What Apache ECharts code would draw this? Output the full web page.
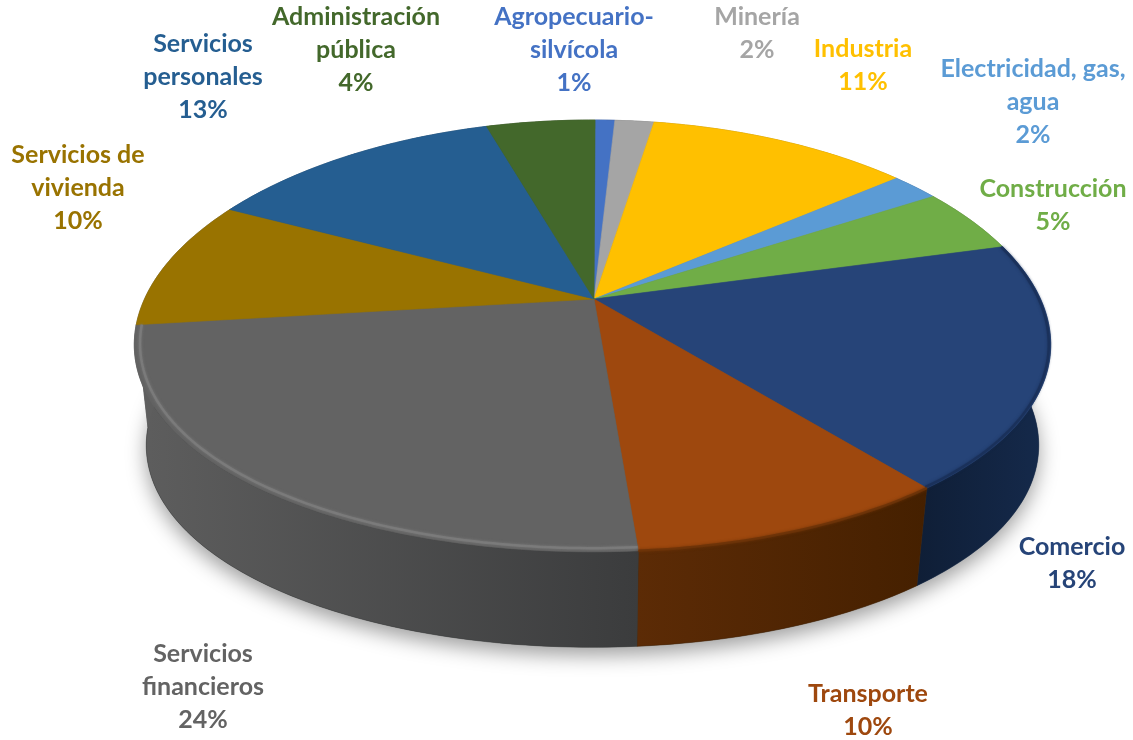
<!DOCTYPE html>
<html><head><meta charset="utf-8">
<style>html,body{margin:0;padding:0;background:#fff}#c{width:1133px;height:740px}</style>
<script src="https://cdn.jsdelivr.net/npm/echarts@6/dist/echarts.min.js"></script>
</head><body><div id="c"></div>
<script>
// Data
const categories = ['Agropecuario-\nsilvícola','Minería','Industria','Electricidad, gas,\nagua','Construcción','Comercio','Transporte','Servicios\nfinancieros','Servicios de\nvivienda','Servicios\npersonales','Administración\npública'];
const shares = [0.85,1.69,11.32,2.06,4.78,18.47,9.43,24.37,9.53,12.8,4.7];
const shareLabels = ['1%','2%','11%','2%','5%','18%','10%','24%','10%','13%','4%'];
// Styles
const topColors = ['#4472C4','#A5A5A5','#FFC000','#5B9BD5','#70AD47','#264478','#9E480E','#636363','#997300','#255E91','#43682B'];
const sideLeft  = ['#2a4577','#666666','#9c7600','#38608a','#44692b','#0f1e36','#5c2b06','#5e5e5e','#5e5e5e','#163a5a','#293f1a'];
const sideRight = ['#2a4577','#666666','#9c7600','#38608a','#44692b','#152a4c','#452000','#3b3c3d','#5e5e5e','#163a5a','#293f1a'];
const rimColors = [null,null,null,null,null,'#1a3059','#6b3208','#7c7c7c',null,null,null];
const rimRadius = [1,1,1,1,1,0.996,1,0.988,1,1,1];
const labelX = [574,757,863,1033,1053,1072,868,203,78,203,356];
const labelY = [50,33,65,102,205,563,710,687,188,77,50];
// Geometry of the tilted disc
const cx=592.5, apexX=594, apexY=299, a=448, b=209.6, perspX=0.21, perspY=0.171, depth=103, baseScale=0.975, startDeg=0.4;

const proj=(deg,r,dy)=>{const t=deg*Math.PI/180,X=Math.sin(t)*r,Y=Math.cos(t)*r;
  return [cx+a*X/(1+perspX*Y), apexY-b*Y/(1+perspY*Y)+(dy||0)];};
const arc=(d0,d1,r,dy)=>{const n=Math.max(2,Math.ceil(Math.abs(d1-d0))),o=[];
  for(let i=0;i<=n;i++)o.push(proj(d0+(d1-d0)*i/n,r,dy));return o;};
const cum=[0];shares.forEach(v=>cum.push(cum[cum.length-1]+v));
const total=cum[cum.length-1];
const ang=i=>startDeg+cum[i]/total*360;

const chart=echarts.init(document.getElementById('c'),null,{renderer:'canvas'});
chart.setOption({
  animation:false,
  backgroundColor:'#fff',
  series:[
    {type:'custom',coordinateSystem:'none',silent:true,z:1,data:[0],
     renderItem:()=>({type:'polygon',shape:{points:arc(0,360,baseScale,depth)},
       style:{fill:'#555',shadowBlur:20,shadowOffsetY:8,shadowColor:'rgba(0,0,0,0.38)'}})},
    {type:'custom',coordinateSystem:'none',silent:true,z:2,data:shares,
     renderItem:(p)=>{const i=p.dataIndex,d0=ang(i),d1=ang(i+1);
       const pts=arc(d0,d1,1,0).concat(arc(d1,d0,baseScale,depth));
       return {type:'polygon',shape:{points:pts},style:{
         fill:new echarts.graphic.LinearGradient(0,0,1,0,[{offset:0,color:sideLeft[i]},{offset:1,color:sideRight[i]}]),
         stroke:sideRight[i],lineWidth:0.5}};}},
    {type:'custom',coordinateSystem:'none',silent:true,z:3,data:shares,
     renderItem:(p)=>{const i=p.dataIndex,d0=ang(i),d1=ang(i+1);
       const pts=[[apexX,apexY]].concat(arc(d0,d1,1,0));
       return {type:'polygon',shape:{points:pts},style:{fill:topColors[i],stroke:topColors[i],lineWidth:0.6}};}},
    {type:'custom',coordinateSystem:'none',silent:true,z:4,data:shares,
     renderItem:(p)=>{const i=p.dataIndex;if(!rimColors[i])return null;
       const d0=ang(i),d1=ang(i+1);
       return {type:'polyline',shape:{points:arc(d0,d1,rimRadius[i],0)},style:{fill:null,stroke:rimColors[i],lineWidth:2.5,
         shadowBlur:3,shadowColor:rimColors[i],opacity:0.85}};}},
    {type:'custom',coordinateSystem:'none',silent:true,z:5,data:shares,
     renderItem:(p)=>{const i=p.dataIndex;
       return {type:'text',style:{text:categories[i]+'\n'+shareLabels[i],x:labelX[i],y:labelY[i],
         align:'center',verticalAlign:'middle',fill:topColors[i],lineHeight:33,
         fontFamily:'Lato',fontWeight:'bold',fontSize:25}};}}
  ]
});
</script></body></html>
